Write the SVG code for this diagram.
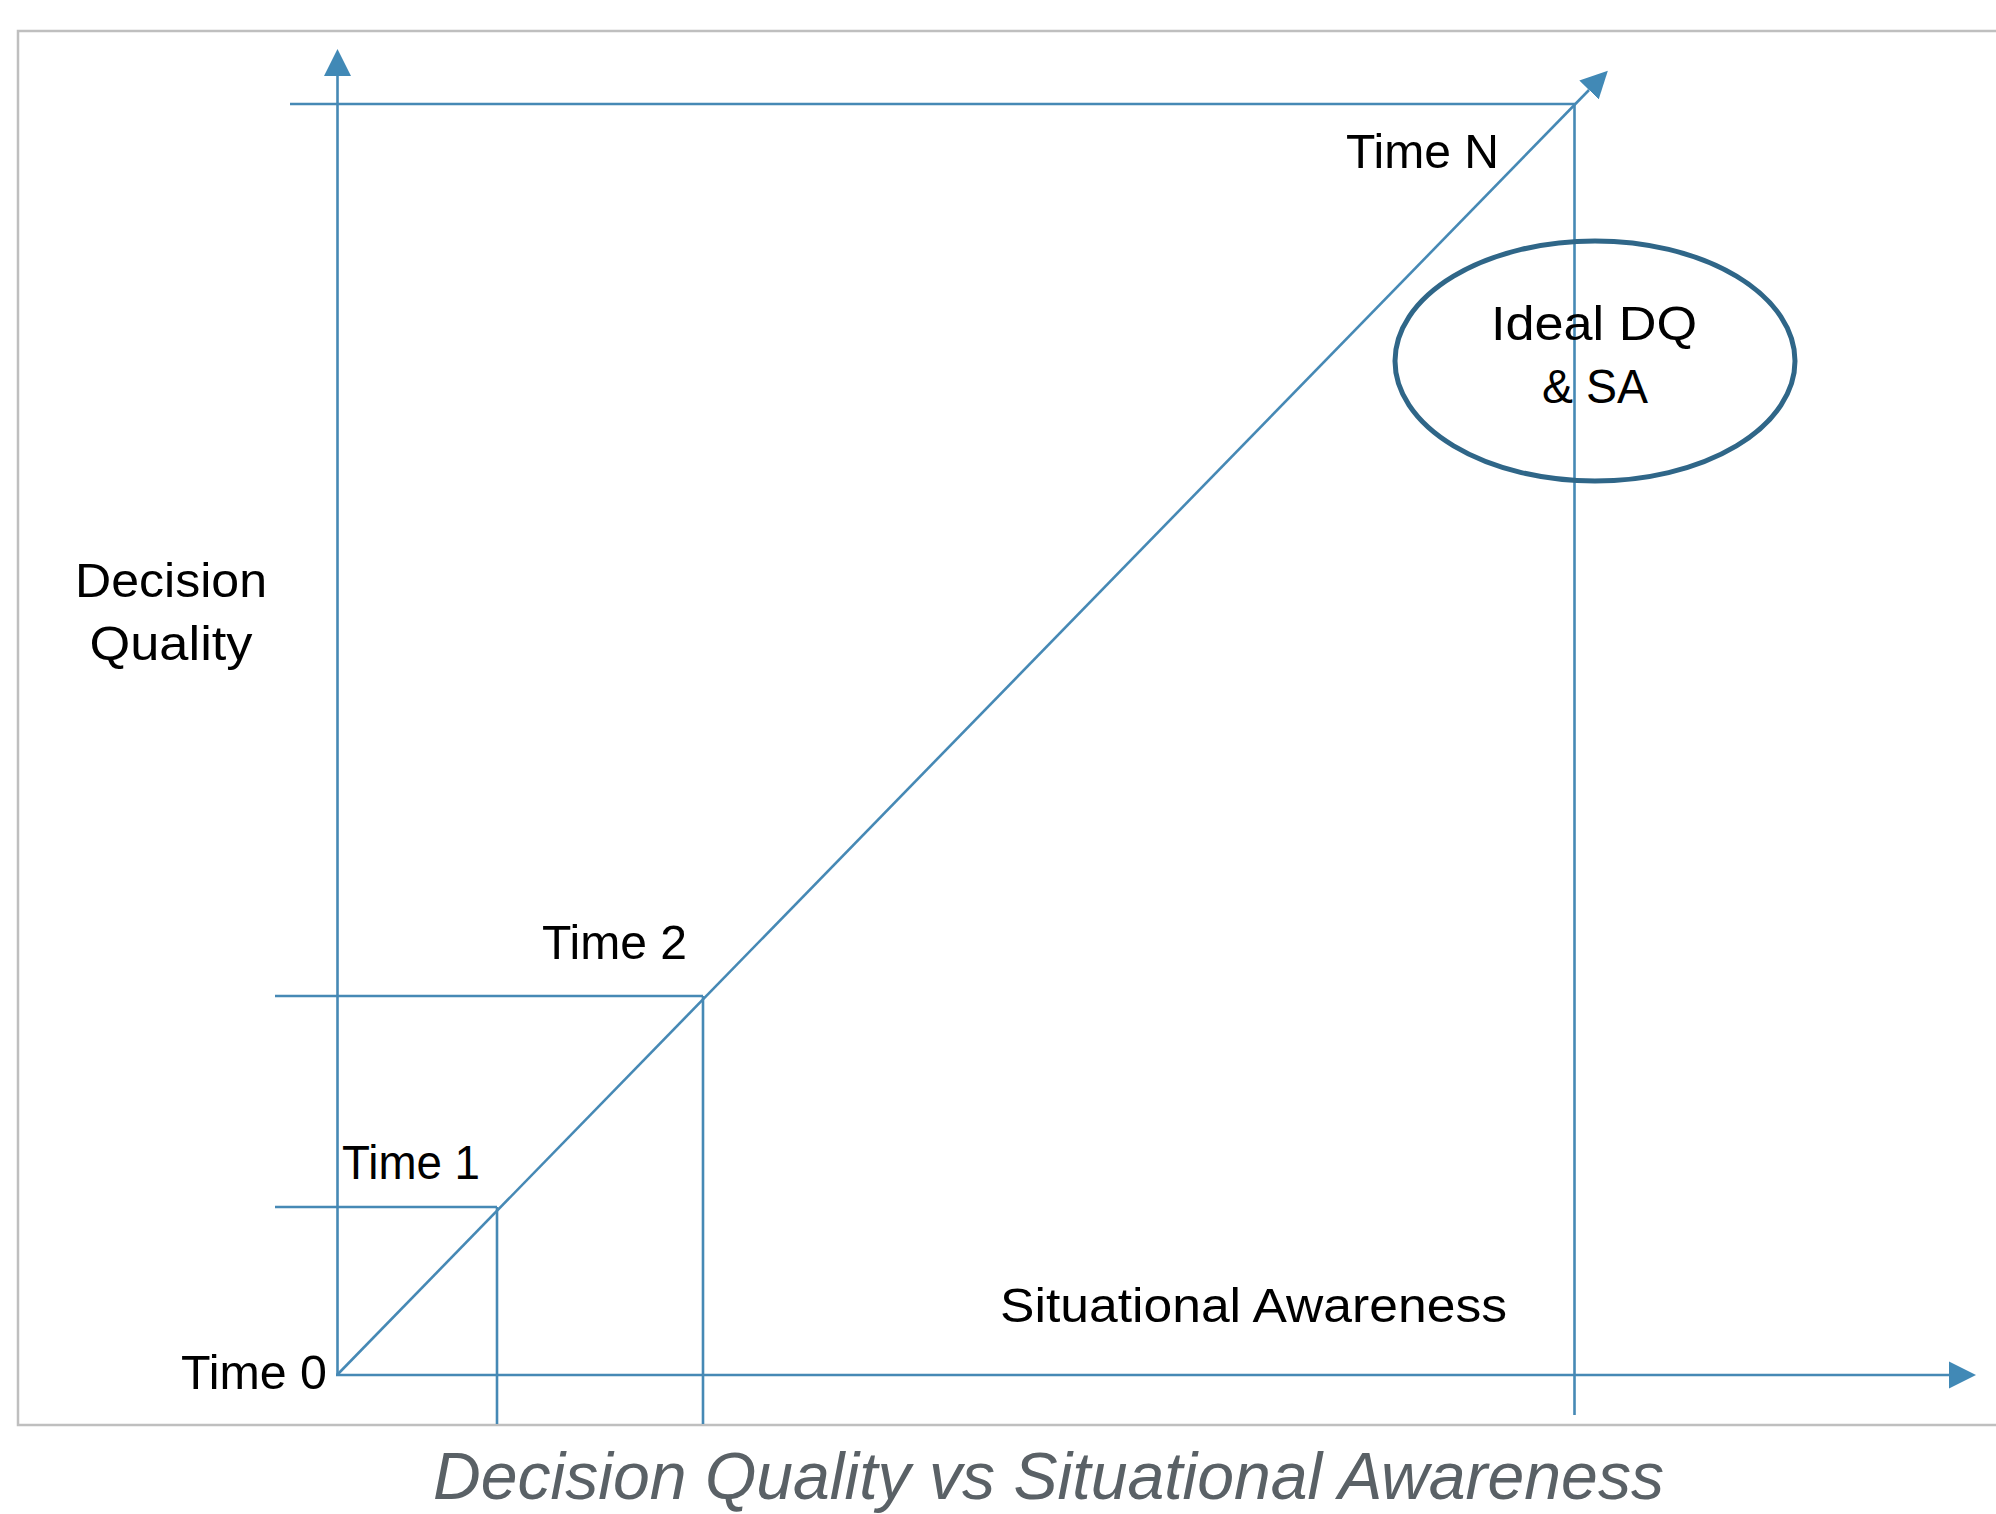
<svg xmlns="http://www.w3.org/2000/svg" width="1996" height="1514" viewBox="0 0 1996 1514">
  <style>
    .frame { fill: none; stroke: #bfbfbf; stroke-width: 2.5; }
    .ln { fill: none; stroke: #4689b5; stroke-width: 2.6; stroke-linecap: butt; }
    .lbl { font-family: "Liberation Sans", Arial, sans-serif; font-size: 48px; fill: #000; }
    .mid { text-anchor: middle; }
    .title { font-family: "Liberation Sans", Arial, sans-serif; font-style: italic; font-size: 66px; fill: #5a6166; }
  </style>
  <defs>
    <marker id="head" viewBox="0 -14 28 28" refX="0" refY="0" markerWidth="28" markerHeight="28" markerUnits="userSpaceOnUse" orient="auto">
      <path d="M0,-13.5 L27,0 L0,13.5 Z" fill="#4189b6"/>
    </marker>
  </defs>

  <rect width="1996" height="1514" fill="#ffffff"/>
  <rect class="frame" x="18" y="31" width="2010" height="1394"/>

  <g id="connectors">
    <!-- axes -->
    <line class="ln" x1="337.5" y1="1376" x2="337.5" y2="76" marker-end="url(#head)"/>
    <line class="ln" x1="336" y1="1375" x2="1949" y2="1375" marker-end="url(#head)"/>
    <!-- progression line -->
    <line class="ln" x1="337" y1="1375" x2="1589" y2="90" marker-end="url(#head)"/>
    <!-- Time N guides -->
    <line class="ln" x1="290" y1="104" x2="1575" y2="104"/>
    <line class="ln" x1="1574.5" y1="104" x2="1574.5" y2="1415"/>
    <!-- Time 2 guides -->
    <line class="ln" x1="275" y1="996" x2="703" y2="996"/>
    <line class="ln" x1="703" y1="996" x2="703" y2="1424"/>
    <!-- Time 1 guides -->
    <line class="ln" x1="275" y1="1207" x2="497" y2="1207"/>
    <line class="ln" x1="497" y1="1207" x2="497" y2="1424"/>
  </g>

  <g id="ideal">
    <ellipse cx="1595" cy="361" rx="200" ry="120" fill="none" stroke="#2f6688" stroke-width="5"/>
    <text class="lbl mid" x="1594" y="340" textLength="206" lengthAdjust="spacingAndGlyphs">Ideal DQ</text>
    <text class="lbl mid" x="1595" y="403" textLength="106" lengthAdjust="spacingAndGlyphs">&amp; SA</text>
  </g>

  <g id="time-n">
    <text class="lbl" x="1346" y="168" textLength="153" lengthAdjust="spacingAndGlyphs">Time N</text>
  </g>
  <g id="time-2">
    <text class="lbl" x="542" y="959" textLength="145" lengthAdjust="spacingAndGlyphs">Time 2</text>
  </g>
  <g id="time-1">
    <text class="lbl" x="342" y="1179" textLength="138" lengthAdjust="spacingAndGlyphs">Time 1</text>
  </g>
  <g id="time-0">
    <text class="lbl" x="181" y="1389" textLength="146" lengthAdjust="spacingAndGlyphs">Time 0</text>
  </g>

  <g id="y-label">
    <text class="lbl mid" x="171" y="597" textLength="192" lengthAdjust="spacingAndGlyphs">Decision</text>
    <text class="lbl mid" x="171" y="660" textLength="163" lengthAdjust="spacingAndGlyphs">Quality</text>
  </g>
  <g id="x-label">
    <text class="lbl" x="1000" y="1322" textLength="507" lengthAdjust="spacingAndGlyphs">Situational Awareness</text>
  </g>

  <g id="title">
    <text class="title" x="433" y="1499" textLength="1231" lengthAdjust="spacingAndGlyphs">Decision Quality vs Situational Awareness</text>
  </g>
</svg>
